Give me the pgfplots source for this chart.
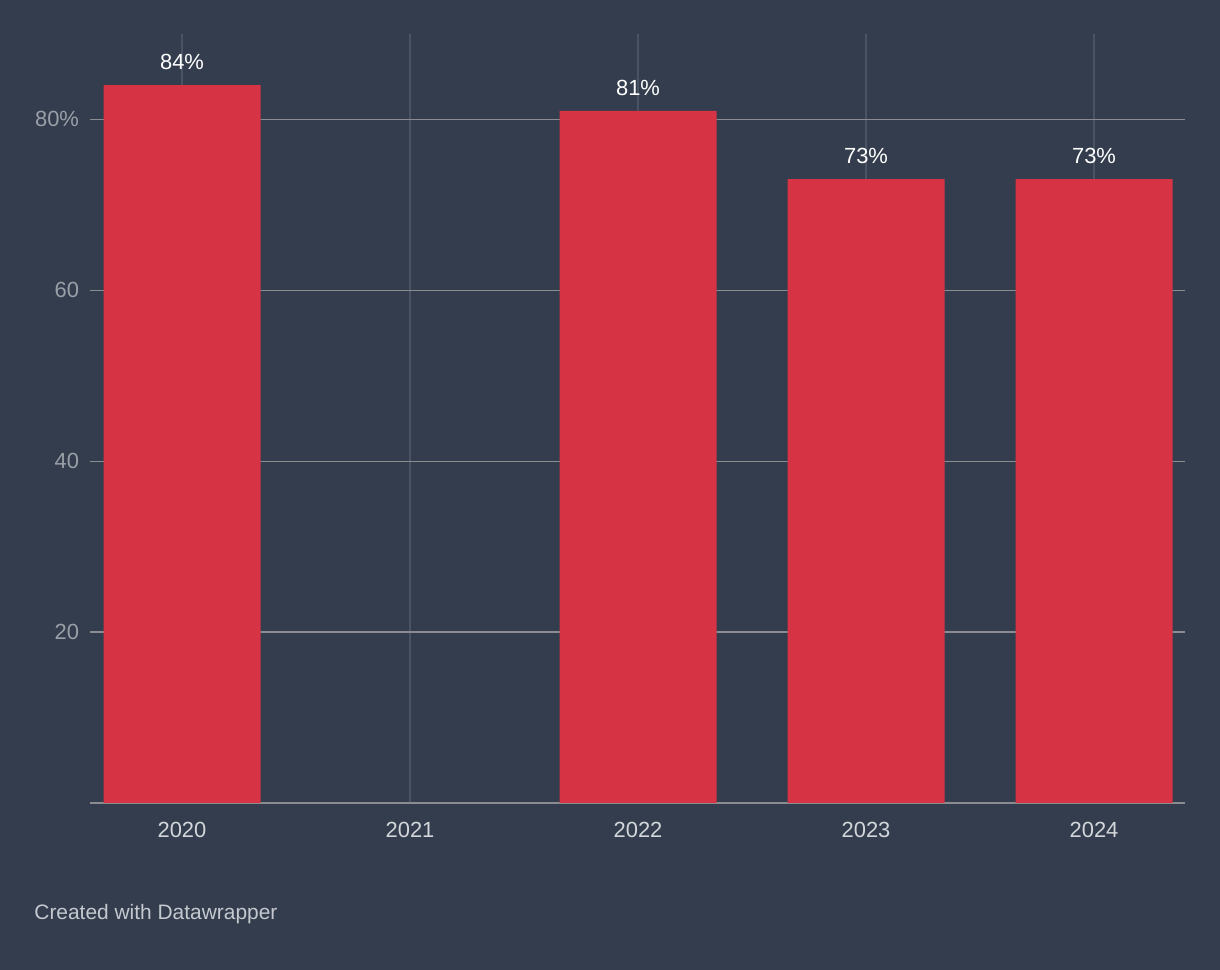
\documentclass[border=0pt]{standalone}
\usepackage{pgfplots}
\pgfplotsset{compat=1.18}
\usepackage{fontspec}
\setmainfont{Liberation Sans}
\definecolor{bg}{HTML}{333D4D}
\definecolor{barred}{HTML}{D63444}
\definecolor{hgrid}{HTML}{8A8C90}
\definecolor{vgrid}{HTML}{4A5362}
\definecolor{ylab}{HTML}{9A9FA7}
\definecolor{xlab}{HTML}{D3D6DB}
\definecolor{foot}{HTML}{C5C9CF}
\begin{document}
\begin{tikzpicture}[x=1bp,y=1bp]
\fill[bg] (0,0) rectangle (610,485);
\begin{axis}[
  at={(45bp,83.5bp)}, anchor=south west,
  scale only axis, width=547.5bp, height=384.5bp,
  xmin=-0.4035, xmax=4.399, ymin=0, ymax=90,
  axis x line*=bottom, axis y line*=left,
  x axis line style={draw=hgrid, line width=0.8bp, -},
  y axis line style={draw=none},
  xtick={0,1,2,3,4}, xticklabels={2020,2021,2022,2023,2024},
  ytick={20,40,60,80}, yticklabels={20,40,60,80\%},
  major tick length=0pt,
  xmajorgrids, ymajorgrids,
  x grid style={draw=vgrid, line width=0.7bp},
  y grid style={draw=hgrid, line width=0.7bp},
  xticklabel style={font=\fontsize{11}{13}\selectfont, text=xlab, yshift=-6bp},
  yticklabel style={font=\fontsize{11}{13}\selectfont, text=ylab, anchor=east, xshift=-2bp},
  /pgf/number format/assume math mode=true,
  ybar, bar width=78.5bp,
  nodes near coords={\pgfmathprintnumber{\pgfplotspointmeta}\%},
  nodes near coords style={font=\fontsize{11}{13}\selectfont, text=white, anchor=south, yshift=4bp},
  clip=false,
]
\addplot[fill=barred, draw=none, bar shift=0pt] coordinates {(0,84) (2,81) (3,73) (4,73)};
\end{axis}
\node[anchor=base west, text=foot, font=\fontsize{10.5}{12}\selectfont, inner sep=0pt] at (17,25) {Created with Datawrapper};
\end{tikzpicture}
\end{document}
